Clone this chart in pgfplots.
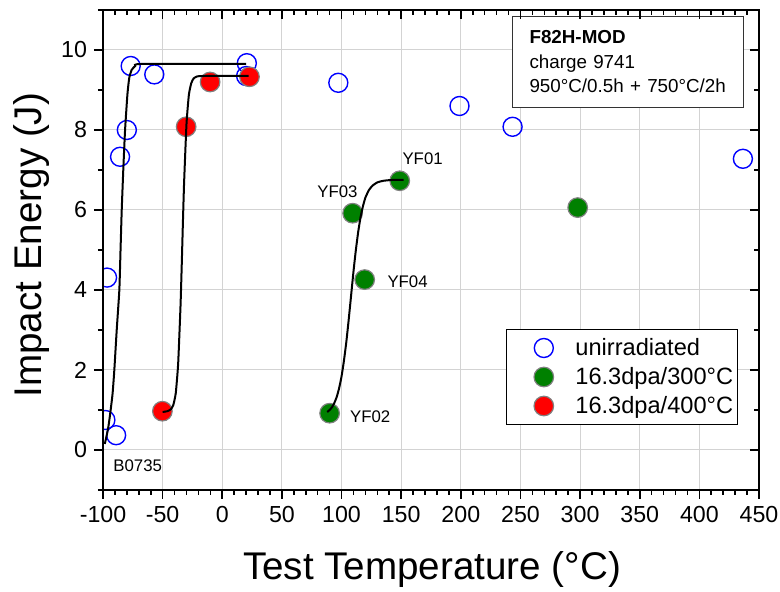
\documentclass[border=0pt]{standalone}
\usepackage{pgfplots}
\pgfplotsset{compat=1.18}
\usepackage{fontspec}
\setmainfont{Liberation Sans}
\definecolor{gridgray}{RGB}{211,211,211}
\definecolor{mkgreen}{RGB}{0,128,0}
\definecolor{mkborder}{RGB}{128,128,128}
\begin{document}
\begin{tikzpicture}
\useasboundingbox (-51.5pt,-51pt) rectangle (338.5pt,245pt);
\begin{axis}[
  width=328pt, height=240pt, scale only axis,
  xmin=-100, xmax=450, ymin=-1, ymax=11,
  xtick={-100,-50,...,450}, ytick={0,2,...,10},
  minor xtick={-90,-80,...,440}, minor ytick={-1,1,...,11},
  xtick pos=left, ytick pos=left, tick align=outside,
  major tick length=4.5pt, minor tick length=2.5pt,
  every tick/.style={black, line width=0.8pt},
  grid=major, major grid style={gridgray, line width=0.5pt},
  minor grid style={draw=none},
  axis line style={line width=1pt},
  tick label style={font=\fontsize{11.6}{13}\selectfont},
  /pgf/number format/assume math mode=true,
  xlabel={Test Temperature (°C)}, ylabel={Impact Energy (J)},
  label style={font=\fontsize{19.3}{22}\selectfont},
  xlabel style={at={(axis description cs:0.5015,0)}, anchor=base, yshift=-45pt},
  ylabel style={at={(axis description cs:-0.09345,0.51)}, anchor=base},
  clip marker paths=true,
  legend image code/.code={\path[draw=none, fill=none] (-18.8pt,-4pt) rectangle (13.8pt,4pt); \draw[#1] plot coordinates {(0pt,0pt)};},
  legend style={at={(0.6139,0.3354)}, anchor=north west, draw=black, line width=0.5pt, fill=white,
    inner xsep=0pt, inner ysep=2pt, column sep=0pt, row sep=0pt,
    font=\fontsize{11.8}{14}\selectfont,
    cells={anchor=west, inner xsep=0pt, inner ysep=1.4pt, text height=9pt, text depth=2.5pt}},
]
% unirradiated
\addplot[blue, only marks, mark=o, mark size=4.75pt, line width=0.7pt] coordinates {
(-98,0.75) (-89,0.37) (-96.6,4.31) (-85.7,7.33) (-80,8.0) (-76.8,9.6) (-57,9.39)
(20.6,9.67) (20,9.35) (97.3,9.18) (198.9,8.6) (243.4,8.08) (436.5,7.28)};
% 300 C
\addplot[only marks, mark=*, mark size=4.9pt, mark options={draw=mkborder, fill=mkgreen, line width=0.6pt}] coordinates {
(90,0.92) (109.3,5.92) (119.4,4.26) (148.8,6.73) (298,6.06)};
% 400 C
\addplot[only marks, mark=*, mark size=4.9pt, mark options={draw=mkborder, fill=red, line width=0.6pt}] coordinates {
(-50.2,0.97) (-30.3,8.08) (-10.2,9.2) (22.8,9.33)};
% fit curves
\addplot[forget plot, black, line width=1pt, smooth, tension=0.3] coordinates {
(-98.5,0.15) (-97,0.35) (-95.5,0.58) (-94,0.9) (-92,1.4) (-90.5,2.0) (-88.5,3.0) (-86.3,4.0)
(-85.3,5.0) (-84.3,6.0) (-83,7.0) (-81.5,8.0) (-79.5,8.9) (-78,9.3) (-76,9.5) (-73,9.6) (-68,9.65) (20,9.65)};
\addplot[forget plot, black, line width=1pt, smooth, tension=0.3] coordinates {
(-50,0.95) (-46,0.97) (-43,1.02) (-41,1.13) (-39,1.42) (-37,2.15) (-35,3.61) (-34,4.61) (-33,5.69)
(-32,6.69) (-30,8.15) (-28,8.88) (-26,9.17) (-24,9.29) (-21,9.34) (-15,9.35) (22,9.35)};
\addplot[forget plot, black, line width=1pt, smooth, tension=0.3] coordinates {
(88,0.95) (90,1.0) (92,1.07) (94,1.18) (96,1.33) (98,1.55) (100,1.84) (102,2.23) (104,2.70) (106,3.26)
(108,3.86) (110,4.46) (112,5.0) (114,5.46) (116,5.83) (118,6.10) (120,6.31) (123,6.50) (126,6.61)
(130,6.69) (135,6.73) (142,6.75) (152,6.75)};
\legend{unirradiated, 16.3dpa/300°C, 16.3dpa/400°C}
% annotations
\node[anchor=west, inner xsep=0pt, font=\fontsize{8.4}{10}\selectfont] at (axis cs:-91.6,-0.4) {B0735};
\node[anchor=west, inner xsep=0pt, font=\fontsize{8.4}{10}\selectfont] at (axis cs:150.8,7.29) {YF01};
\node[anchor=west, inner xsep=0pt, font=\fontsize{8.4}{10}\selectfont] at (axis cs:79.4,6.46) {YF03};
\node[anchor=west, inner xsep=0pt, font=\fontsize{8.4}{10}\selectfont] at (axis cs:138.2,4.2) {YF04};
\node[anchor=west, inner xsep=0pt, font=\fontsize{8.4}{10}\selectfont] at (axis cs:106.8,0.82) {YF02};
\node[draw=black!80, line width=0.5pt, fill=white, anchor=north west, align=left, text width=98.5pt,
  inner xsep=8.5pt, inner ysep=0pt, minimum height=45.5pt, font=\fontsize{9.4}{12.25}\selectfont]
  at (axis description cs:0.6235,0.9881) {\textbf{F82H-MOD}\\charge 9741\\950°C/0.5h + 750°C/2h};
\end{axis}
\begin{axis}[
  width=328pt, height=240pt, scale only axis,
  xmin=-100, xmax=450, ymin=-1, ymax=11,
  xtick={-100,-50,...,450}, ytick={0,2,...,10},
  minor xtick={-90,-80,...,440}, minor ytick={-1,1,...,11},
  xtick pos=right, ytick pos=right, tick align=inside,
  major tick length=4.5pt, minor tick length=2.5pt,
  every tick/.style={black, line width=0.8pt},
  xticklabels={}, yticklabels={},
  axis line style={line width=1pt},
]
\end{axis}
\end{tikzpicture}
\end{document}
